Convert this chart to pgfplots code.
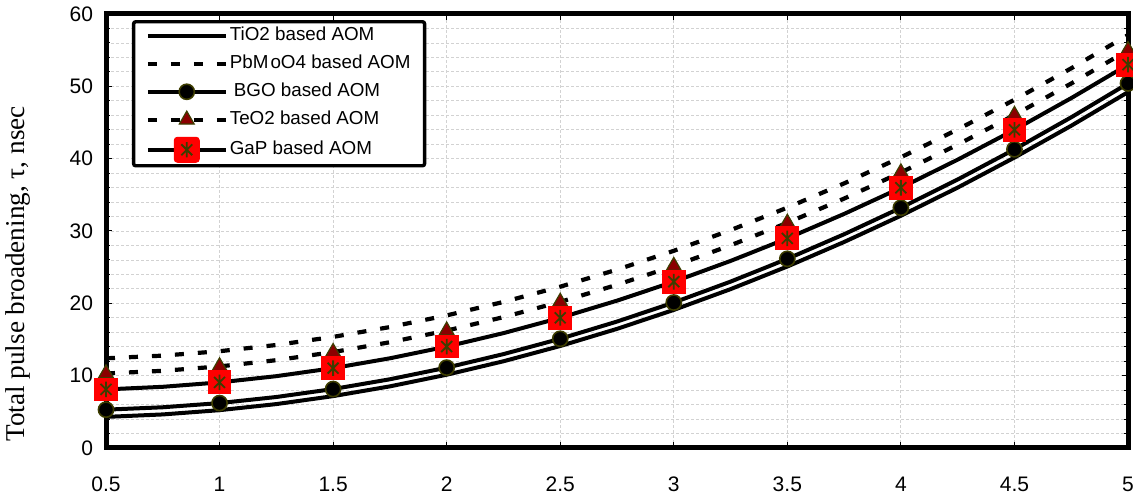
\documentclass[border=0pt]{standalone}
\usepackage{pgfplots}
\pgfplotsset{compat=1.18}
\usepackage{fontspec}
\setmainfont{Liberation Sans}
\newfontfamily\seriffont{Liberation Serif}
\definecolor{olivedark}{HTML}{3D3D00}
\definecolor{trired}{HTML}{8B0000}
\pgfdeclareplotmark{xstar}{%
  \pgfpathmoveto{\pgfqpoint{0pt}{\pgfplotmarksize}}%
  \pgfpathlineto{\pgfqpoint{0pt}{-\pgfplotmarksize}}%
  \pgfpathmoveto{\pgfqpoint{-.7\pgfplotmarksize}{.7\pgfplotmarksize}}%
  \pgfpathlineto{\pgfqpoint{.7\pgfplotmarksize}{-.7\pgfplotmarksize}}%
  \pgfpathmoveto{\pgfqpoint{-.7\pgfplotmarksize}{-.7\pgfplotmarksize}}%
  \pgfpathlineto{\pgfqpoint{.7\pgfplotmarksize}{.7\pgfplotmarksize}}%
  \pgfusepathqstroke}

\pgfplotstableread{
x     tio2   pbmo   bgo    teo2   gap
0.50  4.30  12.40   5.30  10.30   8.10
0.75  4.64  12.77   5.63  10.67   8.46
1.00  5.23  13.38   6.21  11.28   9.07
1.25  6.07  14.24   7.05  12.14   9.93
1.50  7.17  15.36   8.15  13.26  11.04
1.75  8.52  16.72   9.50  14.62  12.40
2.00 10.13  18.33  11.11  16.23  14.02
2.25 11.99  20.19  12.98  18.09  15.88
2.50 14.10  22.30  15.10  20.20  18.00
2.75 16.47  24.66  17.48  22.56  20.37
3.00 19.09  27.26  20.11  25.16  22.99
3.25 21.96  30.12  23.00  28.02  25.86
3.50 25.09  33.23  26.15  31.13  28.98
3.75 28.48  36.58  29.55  34.48  32.36
4.00 32.11  40.19  33.21  38.09  35.98
4.25 36.00  44.04  37.12  41.94  39.86
4.50 40.15  48.14  41.29  46.04  43.99
4.75 44.55  52.49  45.72  50.39  48.37
5.00 49.20  57.09  50.40  54.99  53.00
}\datatable

\begin{document}
\begin{tikzpicture}
\begin{axis}[
  at={(0,0)}, anchor=south west,
  scale only axis, width=511pt, height=217pt,
  xmin=0.5, xmax=5, ymin=0, ymax=60,
  xtick={0.5,1,1.5,2,2.5,3,3.5,4,4.5,5},
  ytick={0,10,20,30,40,50,60},
  minor y tick num=4,
  xticklabels={0.5,1,1.5,2,2.5,3,3.5,4,4.5,5},
  /pgf/number format/assume math mode=true,
  tick label style={font=\fontsize{10.5}{12}\selectfont},
  xticklabel style={yshift=-11pt},
  yticklabel style={xshift=-3pt},
  grid=both,
  major grid style={gray!35, line width=0.4pt, dash pattern=on 1.5pt off 1pt},
  minor grid style={gray!35, line width=0.4pt, dash pattern=on 1.5pt off 1pt},
  axis line style={line width=2.5pt},
  tick style={black, line width=0.5pt},
  major tick length=3pt, minor tick length=2pt,
  ylabel={\seriffont Total pulse broadening, τ, nsec},
  ylabel style={at={(axis description cs:-0.086,0.401)}, anchor=center, font=\fontsize{13.6}{15}\selectfont},
  legend image code/.code={\draw[mark repeat=2,mark phase=2,#1] plot coordinates {(0pt,0pt) (19.5pt,0pt) (39pt,0pt)};},
  legend cell align=left,
  legend style={at={(axis description cs:0.0254,0.986)}, anchor=north west,
    draw=black, line width=1.7pt, rounded corners=1pt,
    font=\fontsize{9.4}{11}\selectfont,
    inner xsep=6pt, inner ysep=1.5pt, row sep=3.0pt,
    nodes={inner sep=1pt, text height=7pt, text depth=2pt}},
  clip=false,
]
\addplot[black, line width=2pt, no marks] table[x=x, y=tio2] {\datatable};
\addlegendentry{TiO2 based AOM}
\addplot[black, line width=2.1pt, dash pattern=on 4.5pt off 7pt, no marks] table[x=x, y=pbmo] {\datatable};
\addlegendentry{PbM\kern1pt oO4 based AOM}
\addplot[black, line width=2pt, mark=*, mark repeat=2,
  mark options={solid, fill=black, draw=olivedark, line width=0.8pt, scale=1}, mark size=3.8pt] table[x=x, y=bgo] {\datatable};
\addlegendentry{\kern2pt BGO based AOM}
\addplot[black, line width=2.1pt, dash pattern=on 4.5pt off 7pt, mark=triangle*, mark repeat=2,
  mark options={solid, fill=trired, draw=olivedark, line width=0.6pt}, mark size=4.3pt] table[x=x, y=teo2] {\datatable};
\addlegendentry{TeO2 based AOM}
\addplot[black, line width=2pt, mark=square*, mark repeat=2,
  mark options={solid, fill=red, draw=red, line width=0pt}, mark size=5.7pt,
  legend image code/.code={
    \draw[black, line width=2pt] (0pt,0pt) -- (39pt,0pt);
    \fill[red] (14pt,-5.5pt) rectangle (25pt,5.5pt);
    \draw[olivedark, line width=0.9pt] (19.5pt,-3.8pt) -- (19.5pt,3.8pt)
      (16.8pt,-2.7pt) -- (22.2pt,2.7pt) (16.8pt,2.7pt) -- (22.2pt,-2.7pt);
  }] table[x=x, y=gap] {\datatable};
\addlegendentry{GaP based AOM}
\addplot[forget plot, only marks, mark=xstar, mark repeat=2,
  mark options={draw=olivedark, line width=0.9pt}, mark size=3.9pt] table[x=x, y=gap] {\datatable};
\end{axis}
\pgfresetboundingbox
\path (-53pt,-24pt) rectangle (513.5pt,224pt);
\end{tikzpicture}
\end{document}
